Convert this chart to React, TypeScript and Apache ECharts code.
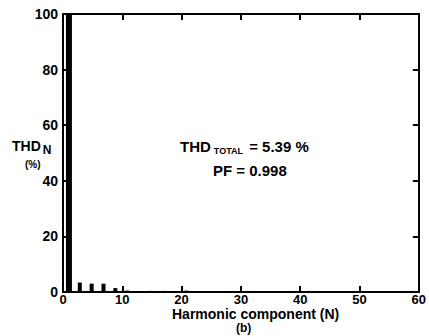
import React, { useEffect, useRef } from "react";
import * as echarts from "echarts";

const harmonicOrders = [1, 3, 5, 7, 9, 11, 13, 15, 17, 19, 21, 23, 25, 27, 29];
const thdValues = [100, 3.4, 3.0, 3.0, 1.4, 0.5, 0.3, 0.4, 0.4, 0.3, 0.5, 0.2, 0.2, 0.2, 0.1];
const xTicks = [0, 10, 20, 30, 40, 50, 60];
const yTicks = [0, 20, 40, 60, 80, 100];
const thdTotal = "5.39 %";
const pf = "0.998";

const FONT = "Liberation Sans";

export default function App() {
  const ref = useRef<HTMLDivElement>(null);
  useEffect(() => {
    if (!ref.current) return;
    const chart = echarts.init(ref.current, null, { renderer: "svg" });
    const lineStyle = { color: "#000", width: 2 };
    const labelStyle = { color: "#000", fontSize: 14, fontWeight: "bold" as const, fontFamily: FONT };
    chart.setOption({
      animation: false,
      backgroundColor: "#fff",
      grid: { left: 63, right: 1, top: 14, bottom: 44, containLabel: false },
      xAxis: [
        {
          type: "value",
          min: xTicks[0],
          max: xTicks[xTicks.length - 1],
          interval: 10,
          axisLine: { show: true, onZero: false, lineStyle },
          axisTick: { show: true, inside: true, length: 6, lineStyle },
          axisLabel: { ...labelStyle, fontSize: 13, lineHeight: 12, margin: 1 },
          splitLine: { show: false },
        },
        {
          type: "value",
          position: "top",
          min: xTicks[0],
          max: xTicks[xTicks.length - 1],
          interval: 10,
          axisLine: { show: true, onZero: false, lineStyle },
          axisTick: { show: true, inside: true, length: 6, lineStyle },
          axisLabel: { show: false },
          splitLine: { show: false },
        },
      ],
      yAxis: [
        {
          type: "value",
          min: yTicks[0],
          max: yTicks[yTicks.length - 1],
          interval: 20,
          axisLine: { show: true, onZero: false, lineStyle },
          axisTick: { show: true, inside: true, length: 6, lineStyle },
          axisLabel: { ...labelStyle, margin: 5 },
          splitLine: { show: false },
        },
        {
          type: "value",
          position: "right",
          min: yTicks[0],
          max: yTicks[yTicks.length - 1],
          interval: 20,
          axisLine: { show: true, onZero: false, lineStyle },
          axisTick: { show: true, inside: true, length: 6, lineStyle },
          axisLabel: { show: false },
          splitLine: { show: false },
        },
      ],
      series: [
        {
          type: "bar",
          xAxisIndex: 0,
          yAxisIndex: 0,
          barWidth: 4,
          itemStyle: { color: "#000" },
          data: harmonicOrders.slice(1).map((n, i) => [n, thdValues[i + 1]]),
        },
        {
          type: "bar",
          xAxisIndex: 0,
          yAxisIndex: 0,
          barWidth: 6,
          barGap: "-100%",
          itemStyle: { color: "#000" },
          data: [[harmonicOrders[0], thdValues[0]]],
        },
      ],
      graphic: [
        {
          type: "text",
          left: 12,
          top: 139,
          style: {
            text: "{a|THD}{s|N}",
            rich: {
              a: { fontSize: 14, fontWeight: "bold", fontFamily: FONT, fill: "#000" },
              s: { fontSize: 12, fontWeight: "bold", fontFamily: FONT, fill: "#000", padding: [7, 0, 0, 2] },
            },
          },
        },
        {
          type: "text",
          left: 25,
          top: 159,
          style: { text: "(%)", fontSize: 10, fontWeight: "bold", fontFamily: FONT, fill: "#000" },
        },
        {
          type: "text",
          left: 180,
          top: 139,
          style: {
            text: "{a|THD}{s|TOTAL}{a| = " + thdTotal + "}",
            rich: {
              a: { fontSize: 15, fontWeight: "bold", fontFamily: FONT, fill: "#000" },
              s: { fontSize: 9, fontWeight: "bold", fontFamily: FONT, fill: "#000", padding: [9, 2, 0, 3] },
            },
          },
        },
        {
          type: "text",
          left: 213,
          top: 163,
          style: { text: "PF = " + pf, fontSize: 15, fontWeight: "bold", fontFamily: FONT, fill: "#000" },
        },
        {
          type: "text",
          left: 172,
          top: 307,
          style: { text: "Harmonic component (N)", fontSize: 14, lineHeight: 13, fontWeight: "bold", fontFamily: FONT, fill: "#000" },
        },
        {
          type: "text",
          left: 236,
          top: 322,
          style: { text: "(b)", fontSize: 12, lineHeight: 12, fontWeight: "bold", fontFamily: FONT, fill: "#000" },
        },
      ],
    });
    return () => chart.dispose();
  }, []);
  return <div ref={ref} style={{ width: 429, height: 336, position: "absolute", left: 0, top: 0 }} />;
}
